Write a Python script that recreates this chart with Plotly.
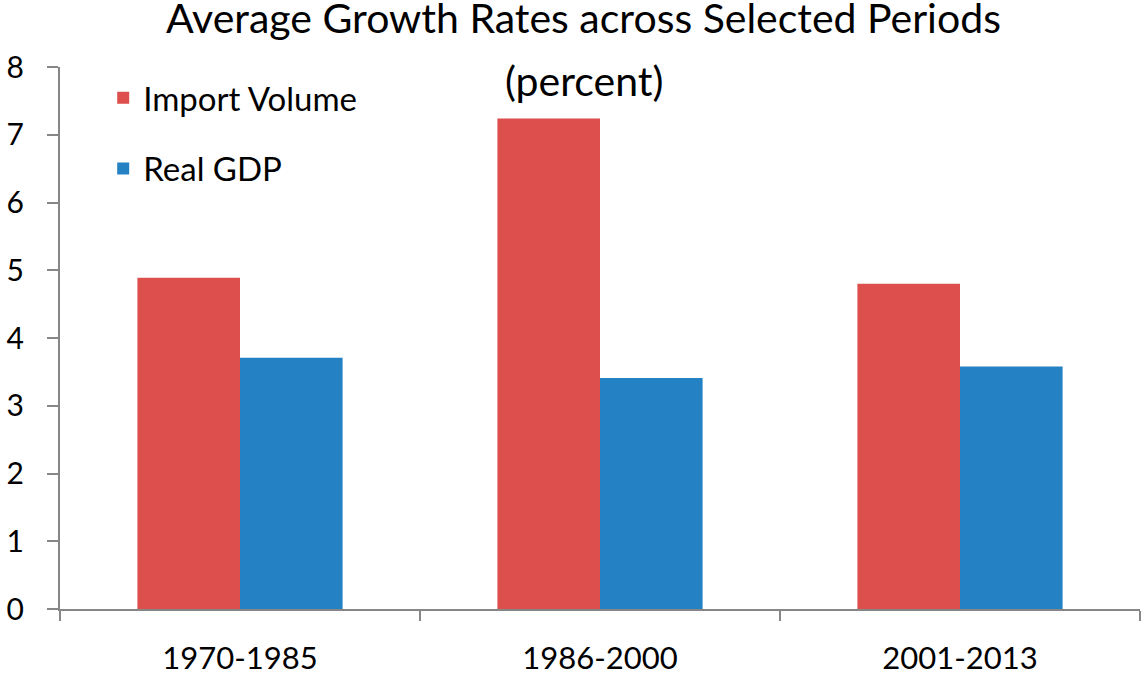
import plotly.graph_objects as go

periods = ["1970-1985", "1986-2000", "2001-2013"]
import_volume = [4.89, 7.24, 4.80]
real_gdp = [3.71, 3.41, 3.58]
title_line1 = "Average Growth Rates across Selected Periods"
title_line2 = "(percent)"

FONT = "Lato"
fig = go.Figure()
fig.add_trace(go.Bar(name="Import Volume", x=periods, y=import_volume,
                     legendgroup="imp",
                     marker=dict(color="#DD4F4D", line=dict(width=0))))
fig.add_trace(go.Bar(name="Real GDP", x=periods, y=real_gdp,
                     legendgroup="gdp",
                     marker=dict(color="#2481C3", line=dict(width=0))))

fig.update_layout(
    width=1143, height=682,
    margin=dict(l=60, r=3, t=67, b=73),
    paper_bgcolor="white", plot_bgcolor="white",
    barmode="group", bargap=0.43, bargroupgap=0,
    font=dict(family=FONT, size=30, color="black"),
    legend=dict(x=0.04, y=0.995, xanchor="left", yanchor="top",
                bgcolor="rgba(0,0,0,0)", font=dict(size=33),
                tracegroupgap=25, traceorder="grouped"),
    showlegend=True,
    annotations=[
        dict(text=title_line1, xref="paper", yref="paper",
             x=0.485, y=1.092, xanchor="center", yanchor="middle",
             showarrow=False, font=dict(family=FONT, size=41, color="black")),
        dict(text=title_line2, xref="paper", yref="paper",
             x=0.485, y=0.976, xanchor="center", yanchor="middle",
             showarrow=False, font=dict(family=FONT, size=41, color="black")),
    ],
)
fig.update_xaxes(showline=True, linecolor="#868686", linewidth=2,
                 ticks="outside", tickson="boundaries", ticklen=10,
                 tickcolor="#868686", tickwidth=2, showgrid=False,
                 tickfont=dict(size=31), ticklabelstandoff=21)
fig.update_yaxes(range=[0, 8], dtick=1, showline=True, linecolor="#868686",
                 linewidth=2, ticks="outside", ticklen=11, tickcolor="#868686",
                 tickwidth=2, showgrid=False, zeroline=False,
                 tickfont=dict(size=30), ticklabelstandoff=17)

fig.write_html("out.html")
